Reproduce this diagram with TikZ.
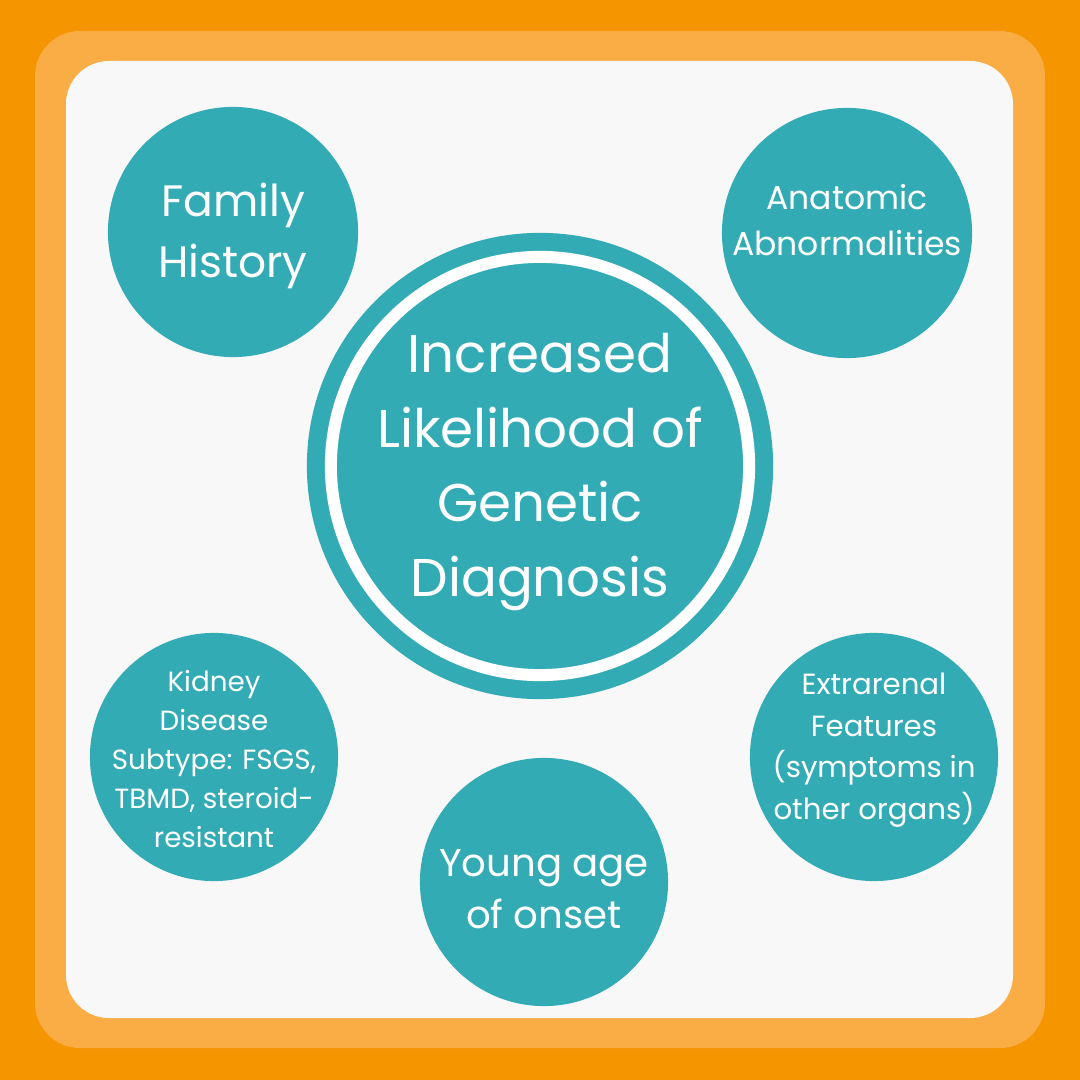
\documentclass[tikz,border=0pt]{standalone}
\usepackage{fontspec}
\setmainfont{Poppins}
\definecolor{bgorange}{HTML}{F59500}
\definecolor{frameorange}{HTML}{FAAC45}
\definecolor{panelgrey}{HTML}{F8F8F8}
\definecolor{bubbleteal}{HTML}{33ABB5}
\begin{document}
\begin{tikzpicture}[x=0.01cm, y=-0.01cm,
    bubble/.style={circle, fill=bubbleteal, inner sep=0pt, minimum size=2.5cm},
    bubbletext/.style={text=white, align=center, inner sep=0pt}]
        \fill[bgorange] (0,0) rectangle (1080,1080);
        \fill[frameorange, rounded corners=0.45cm] (35,31) rectangle (1045,1048);
        \fill[panelgrey, rounded corners=0.43cm] (66,61) rectangle (1013,1018);

        \node[bubble, minimum size=4.66cm] (ring) at (540,466) {};
        \node[bubble, draw=white, line width=0.12cm, minimum size=4.18cm] (core) at (ring) {};
        \node[bubbletext, font=\fontsize{15.1}{21.3}\selectfont] (coretext) at (540,472) {Increased\\Likelihood of\\Genetic\\Diagnosis};

        \node[bubble] (family) at (233,232) {};
        \node[bubbletext, font=\fontsize{12.5}{17.4}\selectfont] (familytext) at (233,236) {Family\\History};

        \node[bubble] (anatomic) at (847,233) {};
        \node[bubbletext, font=\fontsize{9.4}{13.1}\selectfont] (anatomictext) at (847,220) {Anatomic\\Abnormalities};

        \node[bubble, minimum size=2.48cm] (kidney) at (214,757) {};
        \node[bubbletext, font=\fontsize{7.9}{11.1}\selectfont] (kidneytext) at (214,759) {Kidney\\Disease\\Subtype: FSGS,\\TBMD, steroid-\\resistant};

        \node[bubble, minimum size=2.48cm] (extrarenal) at (874,757) {};
        \node[bubbletext, font=\fontsize{8.3}{11.8}\selectfont] (extrarenaltext) at (874,750) {Extrarenal\\Features\\(symptoms in\\other organs)};

        \node[bubble, minimum size=2.48cm] (young) at (544,882) {};
        \node[bubbletext, font=\fontsize{11}{14.7}\selectfont] (youngtext) at (544,889) {Young age\\of onset};
\end{tikzpicture}
\end{document}
